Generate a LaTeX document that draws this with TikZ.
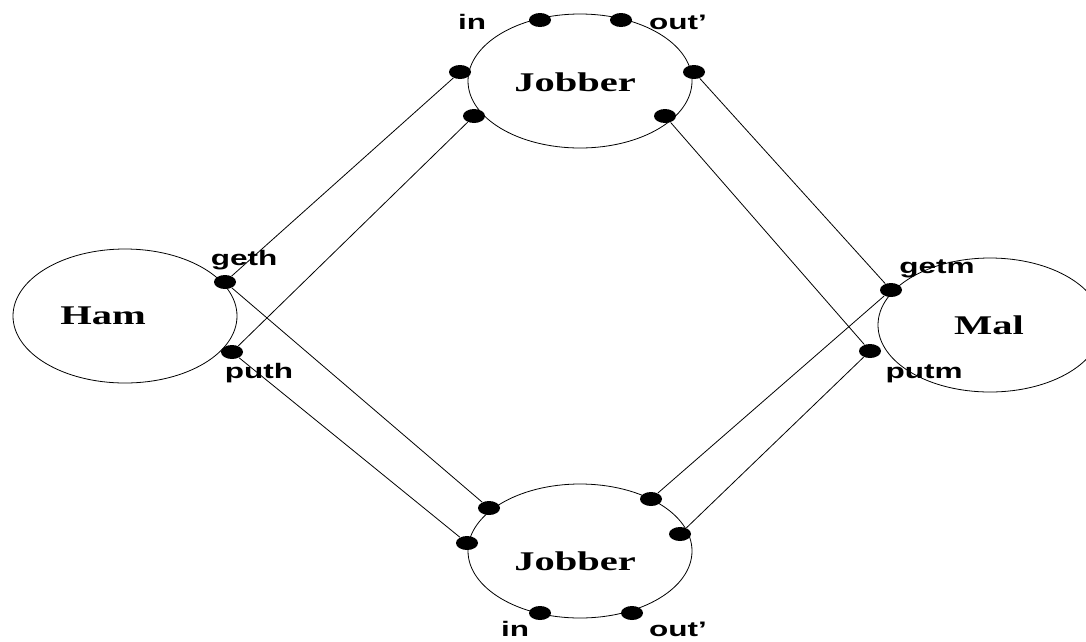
\documentclass[tikz,border=0pt]{standalone}
\usepackage{fontspec}
\usetikzlibrary{shapes.geometric}
\newfontfamily\portfont[FakeStretch=1.5]{Liberation Sans}
\newfontfamily\procfont[FakeStretch=1.5]{Liberation Serif}

\begin{document}
\begin{tikzpicture}[x=1pt,y=-1pt,line width=0.8pt,
	proc/.style={ellipse,draw,minimum width=224pt,minimum height=134pt,inner sep=0pt},
	procname/.style={anchor=base,inner sep=0pt,font=\procfont\bfseries\fontsize{27}{27}\selectfont},
	port/.style={ellipse,fill,minimum width=22pt,minimum height=14pt,inner sep=0pt},
	plabel/.style={anchor=base,inner sep=0pt,font=\portfont\bfseries\fontsize{21}{21}\selectfont}]
\useasboundingbox (0,0) rectangle (1086,641);
\node[proc]	(j_t)	at (580,81)	{};
\node[proc]	(j_b)	at (580,551)	{};
\node[proc]	(ham)	at (125,316)	{};
\node[proc]	(mal)	at (990,325)	{};
\node[procname]	(j_t_n)	at (575,91)	{Jobber};
\node[procname]	(j_b_n)	at (575,570)	{Jobber};
\node[procname]	(ham_n)	at (103,324)	{Ham};
\node[procname]	(mal_n)	at (989,334)	{Mal};
% ports
\node[port]	(jt_in)	at (540,20)	{};
\node[port]	(jt_out)	at (621,20)	{};
\node[port]	(jt_l)	at (460,72)	{};
\node[port]	(jt_ll)	at (474,116)	{};
\node[port]	(jt_r)	at (694,72)	{};
\node[port]	(jt_rr)	at (665,116)	{};
\node[port]	(jb_in)	at (540,613)	{};
\node[port]	(jb_out)	at (632,613)	{};
\node[port]	(jb_l)	at (489,508)	{};
\node[port]	(jb_ll)	at (467,543)	{};
\node[port]	(jb_r)	at (651,499)	{};
\node[port]	(jb_rr)	at (680,534)	{};
\node[port]	(h_get)	at (225,282)	{};
\node[port]	(h_put)	at (232,352)	{};
\node[port]	(m_get)	at (891,290)	{};
\node[port]	(m_put)	at (870,351)	{};
% port labels
\node[plabel]	(l_jt_in)	at (472,29)	{in};
\node[plabel]	(l_jt_out)	at (678,29)	{out’};
\node[plabel]	(l_jb_in)	at (515,636)	{in};
\node[plabel]	(l_jb_out)	at (678,636)	{out’};
\node[plabel]	(l_h_get)	at (244,265)	{geth};
\node[plabel]	(l_h_put)	at (259,378)	{puth};
\node[plabel]	(l_m_get)	at (937,273)	{getm};
\node[plabel]	(l_m_put)	at (924,378)	{putm};
\path	(jt_l)	edge	(h_get)
	(jt_ll)	edge	(h_put)
	(jt_r)	edge	(m_get)
	(jt_rr)	edge	(m_put)
	(h_get)	edge	(jb_l)
	(h_put)	edge	(jb_ll)
	(m_get)	edge	(jb_r)
	(m_put)	edge	(jb_rr);
\end{tikzpicture}
\end{document}
